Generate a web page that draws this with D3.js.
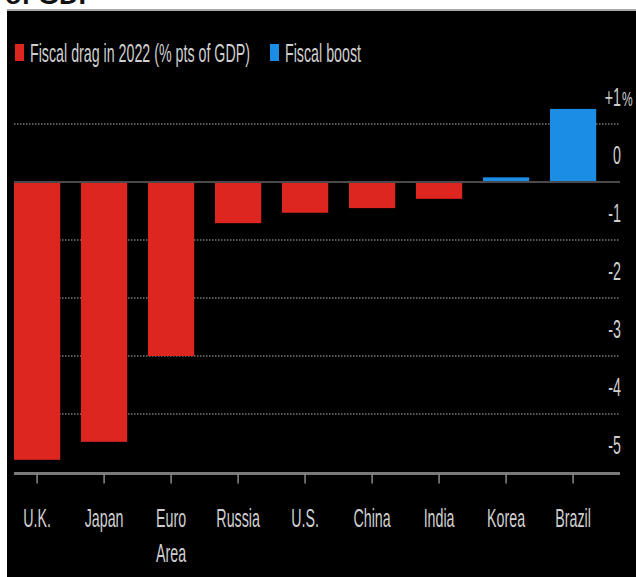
<!DOCTYPE html>
<html><head><meta charset="utf-8">
<script src="https://cdn.jsdelivr.net/npm/d3@7"></script>
<style>
html,body{margin:0;padding:0;background:#fff;}
svg{display:block;}
</style></head>
<body>
<script>
const categories = ["U.K.", "Japan", "Euro\nArea", "Russia", "U.S.", "China", "India", "Korea", "Brazil"];
const values = [-4.79, -4.48, -3.0, -0.71, -0.53, -0.45, -0.29, 0.08, 1.26];
const yTicks = [1, 0, -1, -2, -3, -4, -5];
const yTickLabels = ["+1", "0", "-1", "-2", "-3", "-4", "-5"];
const legendItems = ["Fiscal drag in 2022 (% pts of GDP)", "Fiscal boost"];

const W = 636, H = 577;
const RED = "#dd261f", BLUE = "#1b8de4", TXT = "#cfcfcf";
const FONT = "'Liberation Sans', Arial, sans-serif";
const SX = 0.57;

const svg = d3.select("body").append("svg").attr("width", W).attr("height", H);

// white top with clipped title text
svg.append("rect").attr("x",0).attr("y",0).attr("width",W).attr("height",H).attr("fill","#fff");
svg.append("text").attr("x",5).attr("y",4).attr("font-family","'Liberation Sans', Arial, sans-serif")
  .attr("font-weight","bold").attr("font-size",27).attr("fill","#111").text("of GDP");
svg.append("rect").attr("x",7).attr("y",9).attr("width",W-7).attr("height",2).attr("fill","#aaa");
svg.append("rect").attr("x",7).attr("y",11).attr("width",W-7).attr("height",H-11).attr("fill","#000");

const x = d3.scaleBand().domain(categories).range([14, 596.2]).paddingInner(0.31).paddingOuter(0);
const y = d3.scaleLinear().domain([-5, 1]).range([472, 124]);

// gridlines
const gridG = svg.append("g");
yTicks.filter(t => t !== 0 && t !== -5).forEach(t => {
  gridG.append("line").attr("x1",14).attr("x2",620).attr("y1",y(t)).attr("y2",y(t))
    .attr("stroke","#5a5a5a").attr("stroke-width",2).attr("stroke-dasharray","1.5,1.5");
});

// bars
svg.append("g").selectAll("rect").data(categories).join("rect")
  .attr("x", d => x(d))
  .attr("width", x.bandwidth())
  .attr("y", (d,i) => y(Math.max(0, values[i])))
  .attr("height", (d,i) => Math.abs(y(values[i]) - y(0)))
  .attr("fill", (d,i) => values[i] < 0 ? RED : BLUE);

// zero line
svg.append("line").attr("x1",14).attr("x2",620).attr("y1",y(0)).attr("y2",y(0))
  .attr("stroke","#4a4a4a").attr("stroke-width",2);

// bottom axis line + ticks
const axisY = y(-5) + 1.5;
svg.append("line").attr("x1",14).attr("x2",620).attr("y1",axisY).attr("y2",axisY)
  .attr("stroke","#7a7a7a").attr("stroke-width",3);
svg.append("g").selectAll("line").data(categories).join("line")
  .attr("x1", d => x(d) + x.bandwidth()/2).attr("x2", d => x(d) + x.bandwidth()/2)
  .attr("y1", axisY).attr("y2", axisY + 10)
  .attr("stroke","#8a8a8a").attr("stroke-width",1.5);

// x labels
const xl = svg.append("g");
categories.forEach(c => {
  const cx = x(c) + x.bandwidth()/2;
  const t = xl.append("text").attr("transform", `translate(${cx},527) scale(${SX},1)`)
    .attr("text-anchor","middle").attr("font-family",FONT).attr("font-size",25).attr("fill",TXT);
  c.split("\n").forEach((line, j) => {
    t.append("tspan").attr("x",0).attr("y", j*35).text(line);
  });
});

// y labels
const yl = svg.append("g");
yTicks.forEach((t, i) => {
  yl.append("text").attr("transform", `translate(621,${y(t) - 18}) scale(${SX},1)`)
    .attr("text-anchor","end").attr("font-family",FONT).attr("font-size",25).attr("fill",TXT)
    .text(yTickLabels[i]);
});
yl.append("text").attr("transform", `translate(622,${y(1) - 18}) scale(${SX},1)`)
  .attr("text-anchor","start").attr("font-family",FONT).attr("font-size",21).attr("fill",TXT).text("%");

// legend
const lg = svg.append("g");
lg.append("rect").attr("x",15).attr("y",44).attr("width",9).attr("height",17).attr("fill",RED);
lg.append("text").attr("transform", `translate(30,62) scale(${SX},1)`)
  .attr("font-family",FONT).attr("font-size",25).attr("fill",TXT).text(legendItems[0]);
lg.append("rect").attr("x",270).attr("y",44).attr("width",9).attr("height",17).attr("fill",BLUE);
lg.append("text").attr("transform", `translate(285,62) scale(${SX},1)`)
  .attr("font-family",FONT).attr("font-size",25).attr("fill",TXT).text(legendItems[1]);
</script>
</body></html>
